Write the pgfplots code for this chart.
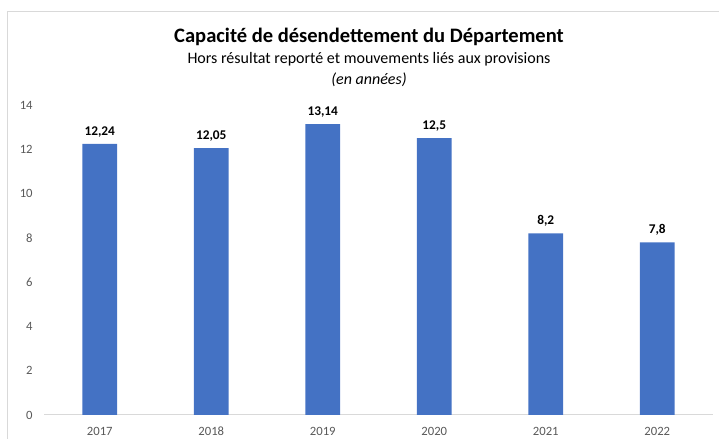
\documentclass[border=0pt]{standalone}
\usepackage{pgfplots}
\pgfplotsset{compat=1.18}
\usepackage{fontspec}
\setmainfont{Carlito}
\definecolor{barblue}{HTML}{4472C4}
\definecolor{ticktxt}{HTML}{595959}
\definecolor{frameline}{HTML}{D9D9D9}

\begin{document}
\begin{tikzpicture}
% 1 px of the reference = 0.75pt
\useasboundingbox (0,0) rectangle (539.25pt,329.25pt);
\draw[frameline, line width=0.75pt] (5.6pt,0) -- (5.6pt,320.25pt) -- (539.25pt,320.25pt);

\node[font=\bfseries\fontsize{15.4}{17}\selectfont] at (276.75pt,301.5pt) {Capacité de désendettement du Département};
\node[font=\fontsize{12}{14}\selectfont] at (276.75pt,284.8pt) {Hors résultat reporté et mouvements liés aux provisions};
\node[font=\itshape\fontsize{12}{14}\selectfont] at (276.75pt,269.5pt) {(en années)};

\begin{axis}[
  at={(33pt,18pt)}, anchor=south west,
  scale only axis, width=501.75pt, height=232.5pt,
  xmin=-0.5, xmax=5.5, ymin=0, ymax=14,
  xtick=data, xticklabels={2017,2018,2019,2020,2021,2022},
  ytick={0,2,...,14},
  axis line style={draw=none},
  major tick length=0pt,
  tick style={draw=none},
  /pgf/number format/assume math mode=true,
  /pgf/number format/use comma,
  /pgf/number format/1000 sep={},
  ticklabel style={font=\fontsize{9.5}{11}\selectfont, text=ticktxt},
  xticklabel style={yshift=-5pt, text height=7pt, text depth=0pt},
  yticklabel style={xshift=-5pt},
  ybar, bar width=0.31,
  nodes near coords,
  every node near coord/.append style={font=\bfseries\fontsize{10}{12}\selectfont, text=black, yshift=1.5pt, text height=7pt, text depth=1.5pt},
  clip=false,
]
\draw[frameline, line width=0.75pt] (axis cs:-0.5,0) -- (axis cs:5.5,0);
\addplot[fill=barblue, draw=none] coordinates {
(0,12.24) (1,12.05) (2,13.14) (3,12.5) (4,8.2) (5,7.8)
};
\end{axis}
\end{tikzpicture}
\end{document}
